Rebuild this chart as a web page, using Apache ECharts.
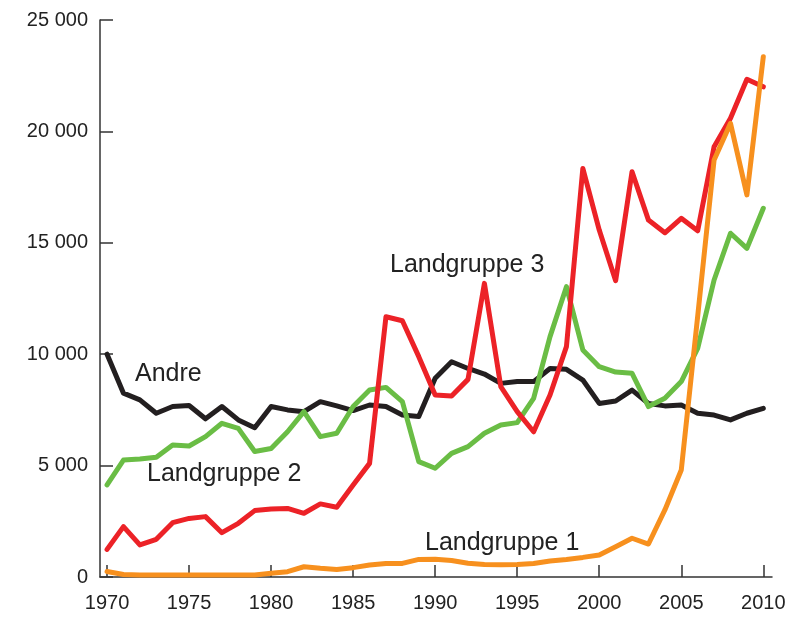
<!DOCTYPE html>
<html>
<head>
<meta charset="utf-8">
<script src="https://cdn.jsdelivr.net/npm/echarts@6/dist/echarts.min.js"></script>
<style>html,body{margin:0;padding:0;background:#fff}#c{width:796px;height:619px}</style>
</head>
<body>
<div id="c"></div>
<script>
var years = [];
for (var y = 1970; y <= 2010; y++) years.push(y);
var xTicks = [1970, 1975, 1980, 1985, 1990, 1995, 2000, 2005, 2010];

var andre = [10000,8250,7950,7350,7650,7700,7100,7650,7050,6700,
  7650,7500,7420,7870,7680,7470,7720,7650,7270,7200,
  8920,9660,9360,9110,8690,8770,8770,9360,9320,8840,
  7790,7900,8390,7790,7680,7720,7350,7270,7050,7350,7570];
var landgruppe2 = [4130,5250,5300,5370,5920,5880,6300,6900,6670,5630,
  5770,6520,7420,6300,6450,7650,8390,8510,7870,5180,
  4880,5550,5850,6450,6820,6930,8020,10790,13030,10190,
  9440,9200,9140,7650,8020,8770,10260,13330,15430,14750,16550];
var landgruppe3 = [1240,2260,1440,1690,2440,2630,2710,1990,2410,2980,
  3050,3080,2860,3280,3130,4130,5100,11680,11500,9890,
  8170,8120,8870,13180,8540,7420,6520,8170,10340,18340,
  15570,13300,18190,16020,15450,16100,15540,19310,20590,22340,22000];
var landgruppe1 = [250,110,90,90,90,90,90,90,90,90,
  170,240,460,390,340,420,540,610,610,790,
  800,740,620,560,550,560,610,720,790,880,
  990,1360,1740,1480,3010,4800,11700,18720,20360,17150,23350];

function pairs(vals){ return years.map(function(yr,i){ return [yr, vals[i]]; }); }
function fmt(v){ return String(v).replace(/\B(?=(\d{3})+(?!\d))/g, ' '); }

var FONT = "'Liberation Sans', Arial, sans-serif";
var chart = echarts.init(document.getElementById('c'), null, {renderer:'canvas'});

function line(name, vals, color){
  return {
    name: name, type: 'line', data: pairs(vals), showSymbol: false, symbol: 'none',
    lineStyle: { color: color, width: 5, cap: 'round', join: 'round' },
    itemStyle: { color: color }, animation: false, z: 2
  };
}

chart.setOption({
  animation: false,
  backgroundColor: '#fff',
  grid: { left: 100, right: 24, top: 20, bottom: 42, containLabel: false },
  xAxis: {
    type: 'value', min: 1969.57, max: 2010.53,
    axisLine: { show: true, lineStyle: { color: '#333', width: 1.5 } },
    axisTick: { show: true, inside: true, length: 12, customValues: xTicks, lineStyle: { color: '#333', width: 1.5 } },
    axisLabel: { customValues: xTicks, color: '#222', fontSize: 20, fontFamily: FONT, margin: 16,
      formatter: function(v){ return String(v); } },
    splitLine: { show: false }
  },
  yAxis: {
    type: 'value', min: 0, max: 25000, interval: 5000,
    axisLine: { show: true, lineStyle: { color: '#333', width: 1.5 } },
    axisTick: { show: true, inside: true, length: 13, lineStyle: { color: '#333', width: 1.5 } },
    axisLabel: { color: '#222', fontSize: 20, fontFamily: FONT, margin: 12, formatter: fmt },
    splitLine: { show: false }
  },
  series: [
    line('Andre', andre, '#231f20'),
    line('Landgruppe 2', landgruppe2, '#6abd45'),
    line('Landgruppe 3', landgruppe3, '#ec2227'),
    line('Landgruppe 1', landgruppe1, '#f7901e')
  ],
  graphic: [
    { type: 'text', left: 135, top: 362, style: { text: 'Andre', font: "25px " + FONT, fill: '#222' } },
    { type: 'text', left: 147, top: 462, style: { text: 'Landgruppe 2', font: "25px " + FONT, fill: '#222' } },
    { type: 'text', left: 390, top: 253, style: { text: 'Landgruppe 3', font: "25px " + FONT, fill: '#222' } },
    { type: 'text', left: 425, top: 531, style: { text: 'Landgruppe 1', font: "25px " + FONT, fill: '#222' } }
  ]
});
</script>
</body>
</html>
